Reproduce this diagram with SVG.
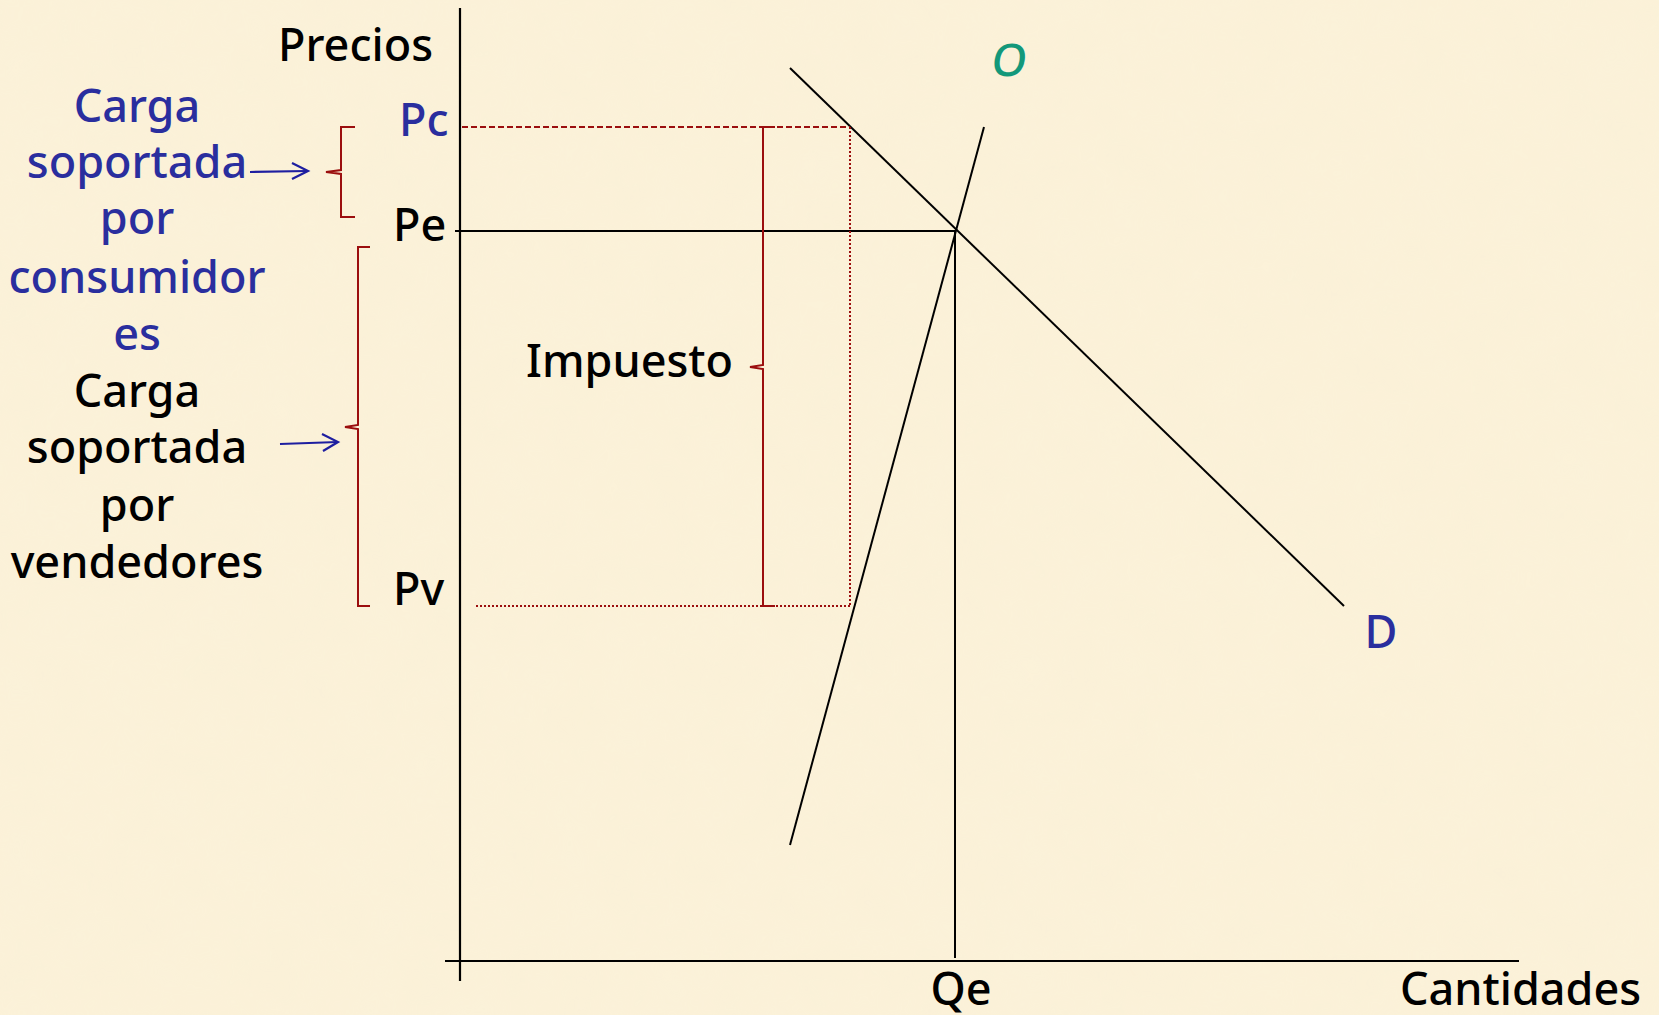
<svg xmlns="http://www.w3.org/2000/svg" width="1659" height="1015" viewBox="0 0 1659 1015">
<defs>
<style>
text{font-family:"Comic Sans MS","Noto Sans","DejaVu Sans",sans-serif;font-size:45px;font-weight:500;fill:#000}
.blue{fill:#2A2E9E}
.green{fill:#13987A}
.ax{stroke:#000;stroke-width:2.2;fill:none}
.thin{stroke:#000;stroke-width:2;fill:none}
.red{stroke:#9B0E0E;stroke-width:2;fill:none}
.dash{stroke:#9B0E0E;stroke-width:2;stroke-dasharray:6 3;fill:none}
.dot{stroke:#9B0E0E;stroke-width:2;stroke-dasharray:2 2;fill:none}
.arr{stroke:#1E1EA0;stroke-width:2.2;fill:none}
</style>
<filter id="tex" x="0" y="0" width="100%" height="100%">
<feTurbulence type="fractalNoise" baseFrequency="0.02" numOctaves="3" seed="3"/>
<feColorMatrix type="matrix" values="0 0 0 0 0.96  0 0 0 0 0.90  0 0 0 0 0.72  0 0 0 0.35 0"/>
</filter>
</defs>
<rect width="1659" height="1015" fill="#FBF1D8"/>
<rect width="1659" height="1015" filter="url(#tex)" opacity="0.5"/>
<g id="connectors">
<line id="y-axis" class="ax" x1="460" y1="8" x2="460" y2="981"/>
<line id="x-axis" class="ax" x1="445" y1="961" x2="1519" y2="961"/>
<line id="pe-line" class="thin" x1="455" y1="231" x2="955" y2="231"/>
<line id="qe-line" class="thin" x1="955" y1="231" x2="955" y2="958"/>
<line id="demand" class="thin" x1="790" y1="68" x2="1344" y2="606"/>
<line id="supply" class="thin" x1="984" y1="127" x2="790" y2="845"/>
<line id="pc-line" class="dash" x1="462" y1="127" x2="850" y2="127"/>
<line id="pv-line" class="dot" x1="476" y1="606" x2="850" y2="606"/>
<line id="tax-right" class="dot" x1="850" y1="127" x2="850" y2="606"/>
<path id="brace-tax" class="red" d="M775,127 H763 V365 L750,367 L763,369 V606 H775"/>
<path id="brace-cons" class="red" d="M355,127 H341 V170 L326,172 L341,174 V217 H355"/>
<path id="brace-vend" class="red" d="M370,247 H358 V425 L345,427 L358,429 V606 H370"/>
<g id="arrow-cons" class="arr"><line x1="250" y1="172" x2="307" y2="171"/><path d="M292,163 L308,171 L292,179"/></g>
<g id="arrow-vend" class="arr"><line x1="280" y1="444" x2="338" y2="442"/><path d="M322,434 L338,442 L323,451"/></g>
</g>
<g id="labels-axes">
<text id="precios" x="278" y="61">Precios</text>
<text id="cantidades" x="1400" y="1005">Cantidades</text>
<text id="qe" x="961" y="1005" text-anchor="middle">Qe</text>
</g>
<g id="labels-prices">
<text id="pc" class="blue" x="399" y="136">Pc</text>
<text id="pe" x="393" y="241">Pe</text>
<text id="pv" x="393" y="605">Pv</text>
</g>
<g id="labels-curves">
<text id="o" class="green" x="1008" y="76" text-anchor="middle" font-size="48" font-weight="400" transform="skewX(-8) translate(10 0)">O</text>
<text id="d" class="blue" x="1381" y="648" text-anchor="middle">D</text>
<text id="impuesto" x="526" y="377">Impuesto</text>
</g>
<g id="node-consumidores">
<text class="blue" x="137" y="122" text-anchor="middle">Carga</text>
<text class="blue" x="137" y="178" text-anchor="middle">soportada</text>
<text class="blue" x="137" y="234" text-anchor="middle">por</text>
<text class="blue" x="137" y="293" text-anchor="middle">consumidor</text>
<text class="blue" x="137" y="350" text-anchor="middle">es</text>
</g>
<g id="node-vendedores">
<text x="137" y="407" text-anchor="middle">Carga</text>
<text x="137" y="463" text-anchor="middle">soportada</text>
<text x="137" y="521" text-anchor="middle">por</text>
<text x="137" y="578" text-anchor="middle">vendedores</text>
</g>
</svg>
